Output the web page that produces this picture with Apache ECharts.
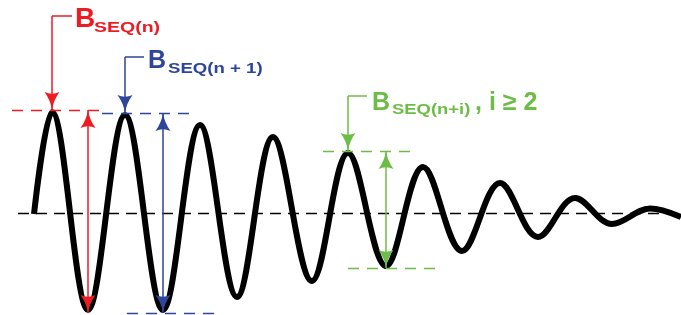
<!DOCTYPE html>
<html><head><meta charset="utf-8">
<script src="https://cdn.jsdelivr.net/npm/echarts@6/dist/echarts.min.js"></script>
<style>html,body{margin:0;padding:0;background:#fff}#c{width:681px;height:315px}</style>
</head><body><div id="c"></div>
<script>
// Damped oscillation: time (x) of each extremum and amplitude (relative to the midline)
const t   = [34, 52, 88, 125, 163, 200, 237, 273, 312, 348, 386, 423, 462, 500, 538, 575, 612, 650, 681];
const amp = [-0.01, 1.01, -0.97, 0.98, -0.97, 0.88, -0.84, 0.76, -0.68, 0.60, -0.53, 0.46, -0.38, 0.30, -0.24, 0.15, -0.11, 0.045, -0.04];

// Annotation groups: red = B_SEQ(n), blue = B_SEQ(n+1), green = B_SEQ(n+i)
const groupNames   = ['red', 'blue', 'green'];
const topLevel     = [1.03, 1.00, 0.62];
const bottomLevel  = [-1.00, -1.00, -0.55];
const topDashFrom  = [12, 102, 323];
const topDashTo    = [102, 195, 415];
const botDashFrom  = [null, 127, 348];
const botDashTo    = [null, 218, 440];
const spanX        = [88, 163, 386];
const leaderX      = [52, 125, 348];
const leaderEndX   = [72, 144, 367];
const leaderLevel  = [1.97, 1.56, 1.17];
const labelMain    = ['B', 'B', 'B'];
const labelSub     = ['SEQ(n)', 'SEQ(n + 1)', 'SEQ(n+i)'];
const labelTail    = ['', '', ', i \u2265 2'];
const midlineFrom  = 18;

const colors = ['#ed1c24', '#2e4599', '#6cbd45'];
const ARROW = 'path://M10 0 Q12 12 20 22 Q10 18 0 22 Q8 12 10 0 Z';
const AS = [15, 18];

const chart = echarts.init(document.getElementById('c'), null, {renderer: 'canvas'});

function endp(x, y, sym) {
  return {coord: [x, y], symbol: sym ? ARROW : 'none', symbolSize: AS, symbolOffset: [0, '50%']};
}

const annSeries = groupNames.map((g, i) => {
  const c = colors[i];
  const d = [];
  d.push([Object.assign(endp(topDashFrom[i], topLevel[i], false), {lineStyle: {type: [11, 8], width: 1.3, color: c}}), endp(topDashTo[i], topLevel[i], false)]);
  if (botDashFrom[i] !== null) {
    d.push([Object.assign(endp(botDashFrom[i], bottomLevel[i], false), {lineStyle: {type: [11, 8], width: 1.3, color: c}}), endp(botDashTo[i], bottomLevel[i], false)]);
  }
  d.push([Object.assign(endp(leaderEndX[i], leaderLevel[i], false), {lineStyle: {type: 'solid', width: 1.5, color: c}}), endp(leaderX[i], leaderLevel[i], false)]);
  d.push([Object.assign(endp(leaderX[i], leaderLevel[i], false), {lineStyle: {type: 'solid', width: 1.5, color: c}}), endp(leaderX[i], topLevel[i], true)]);
  d.push([Object.assign(endp(spanX[i], topLevel[i], true), {lineStyle: {type: 'solid', width: 1.5, color: c}}), endp(spanX[i], bottomLevel[i], true)]);
  return {
    name: g, type: 'line', data: [], z: 5, silent: true,
    markLine: {
      silent: true, animation: false, z: 5,
      label: {show: false},
      itemStyle: {color: c},
      lineStyle: {color: c},
      emphasis: {disabled: true},
      data: d
    }
  };
});

chart.setOption({
  animation: false,
  grid: {left: 0, right: 0, top: 0, bottom: 0},
  xAxis: {type: 'value', min: 0, max: 681, show: false},
  yAxis: {type: 'value', min: -1.02, max: 2.13, show: false},
  series: [{
    name: 'signal', type: 'line', z: 3,
    data: t.map((x, i) => [x, amp[i]]),
    smooth: 0.36, showSymbol: false, symbol: 'none',
    lineStyle: {color: '#000', width: 6},
    markLine: {
      silent: true, animation: false, symbol: 'none', z: 2,
      label: {show: false},
      lineStyle: {color: '#000', width: 1.3, type: [11, 7]},
      data: [[{coord: [midlineFrom, 0]}, {coord: [t[t.length - 1], 0]}]]
    }
  }].concat(annSeries)
});

// Text labels (B with bold subscript), positioned in pixels
const txt = [
  {main: [75, 29, 28], sub: [94, 33, 15, 1.3], tail: null},
  {main: [148, 70, 25], sub: [168, 74, 15, 1.24], tail: null},
  {main: [372, 112, 25], sub: [392, 115, 14.5, 1.27], tail: [475, 112, 25]}
];
const graphics = [];
txt.forEach((o, i) => {
  const f = 'bold ' + o.main[2] + 'px "Liberation Sans", Arial, sans-serif';
  graphics.push({type: 'text', x: o.main[0], y: o.main[1] - 0.85 * o.main[2], z: 10,
    style: {text: labelMain[i], font: f, fill: colors[i], verticalAlign: 'top', align: 'left'}});
  graphics.push({type: 'text', x: o.sub[0], y: o.sub[1] - 0.85 * o.sub[2], scaleX: o.sub[3], z: 10,
    style: {text: labelSub[i], font: 'bold ' + o.sub[2] + 'px "Liberation Sans", Arial, sans-serif', fill: colors[i], verticalAlign: 'top', align: 'left'}});
  if (o.tail) {
    graphics.push({type: 'text', x: o.tail[0], y: o.tail[1] - 0.85 * o.tail[2], z: 10,
      style: {text: labelTail[i], font: 'bold ' + o.tail[2] + 'px "Liberation Sans", Arial, sans-serif', fill: colors[i], verticalAlign: 'top', align: 'left'}});
  }
});
chart.setOption({graphic: graphics});
</script>
</body></html>
